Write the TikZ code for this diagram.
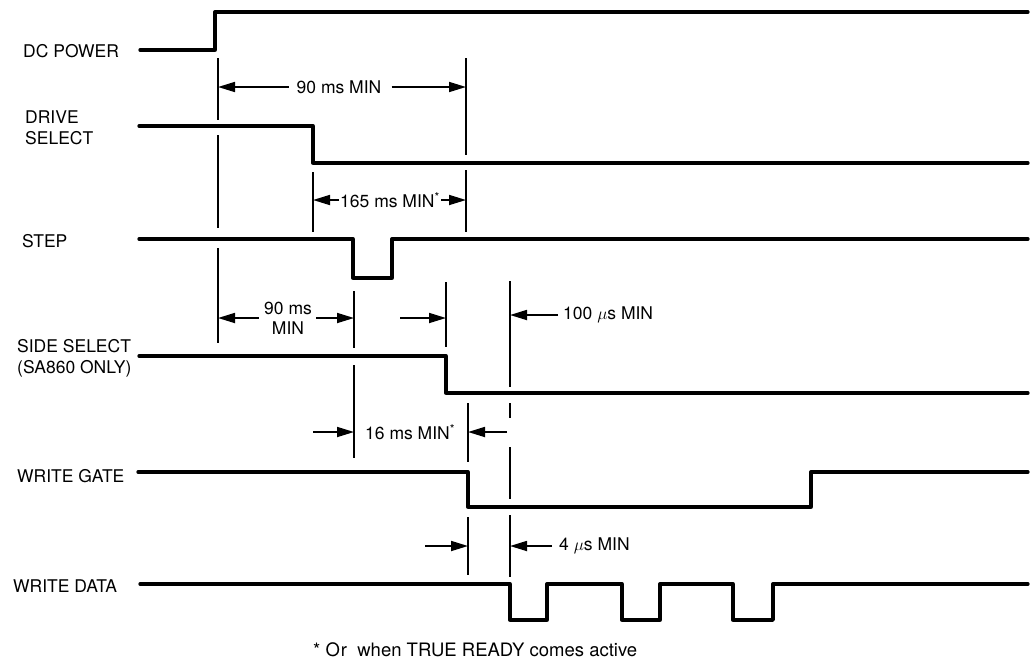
\documentclass[tikz,border=0pt]{standalone}
\usepackage{fontspec}
\setmainfont{TeX Gyre Heros}
\usetikzlibrary{arrows.meta}
\begin{document}
\begin{tikzpicture}[x=1pt,y=-1pt,
  sig/.style={line width=3.3pt,line join=round,line cap=round},
  guide/.style={line width=1.7pt},
  dim/.style={line width=1.7pt,-{Triangle[length=17pt,width=10pt]}},
  lbl/.style={font=\fontsize{17.5}{21}\selectfont,inner sep=0pt,anchor=west,align=left},
  txt/.style={font=\fontsize{17.5}{21}\selectfont,inner sep=0pt},
  foot/.style={font=\fontsize{18.5}{22}\selectfont,inner sep=0pt,anchor=west}]
\useasboundingbox (0,0) rectangle (1030,662);
% guide coordinates (x positions of timing references)
\coordinate (gA) at (218,0);
\coordinate (gB) at (466,0);
\coordinate (gC) at (313,0);
\coordinate (gD) at (354,0);
\coordinate (gE) at (446,0);
\coordinate (gF) at (510,0);
\coordinate (gG) at (468,0);
% signal labels
\node[lbl] (lDC) at (23,51) {DC POWER};
\node[lbl] (lDS) at (25,128) {DRIVE\\SELECT};
\node[lbl] (lST) at (22,241) {STEP};
\node[lbl] (lSS) at (17,358) {SIDE SELECT\\(SA860 ONLY)};
\node[lbl] (lWG) at (17,476) {WRITE GATE};
\node[lbl] (lWD) at (13,586) {WRITE DATA};
% signals
\draw[sig] (140,50) -- (215,50) -- (215,12) -- (1028,12);
\draw[sig] (139,126) -- (313,126) -- (313,163) -- (1028,163);
\draw[sig] (139,239) -- (353,239) -- (353,278) -- (392,278) -- (392,239) -- (1028,239);
\draw[sig] (139,356) -- (446,356) -- (446,393) -- (1028,393);
\draw[sig] (138,472) -- (468,472) -- (468,507) -- (811,507) -- (811,472) -- (1028,472);
\draw[sig] (140,584) -- (510,584) -- (510,620) -- (547,620) -- (547,584)
  -- (622,584) -- (622,620) -- (660,620) -- (660,584)
  -- (733,584) -- (733,620) -- (773,620) -- (773,584) -- (1028,584);
% guide lines
\draw[guide] (218,58) -- (218,120) (218,135) -- (218,228) (218,248) -- (218,343);
\draw[guide] (466,58) -- (466,155) (466,170) -- (466,232);
\draw[guide] (313,172) -- (313,232);
\draw[guide] (354,291) -- (354,348) (354,365) -- (354,458);
\draw[guide] (446,282) -- (446,347);
\draw[guide] (510,281) -- (510,387) (510,403) -- (510,418) (510,447) -- (510,499) (510,515) -- (510,577);
\draw[guide] (468,403) -- (468,462) (468,517) -- (468,575);
% 90 ms MIN (top)
\node[txt] (t90a) at (339,87) {90 ms MIN};
\draw[dim] ([xshift=-8pt]t90a.west) -- (t90a.west -| gA);
\draw[dim] ([xshift=10pt]t90a.east) -- (t90a.east -| gB);
% 165 ms MIN*
\node[txt,inner xsep=1pt] (t165) at (390,200) {165 ms MIN\textsuperscript{*}};
\draw[dim] (t165.west) -- (t165.west -| gC);
\draw[dim] (t165.east) -- (t165.east -| gB);
% 90 ms MIN (second)
\node[txt,align=center,font=\fontsize{17.5}{20}\selectfont] (t90b) at (288,318) {90 ms\\MIN};
\draw[dim] ([xshift=-5pt]t90b.west) -- (t90b.west -| gA);
\draw[dim] ([xshift=4pt]t90b.east) -- (t90b.east -| gD);
% arrow to side select edge
\coordinate (sE) at (400,318);
\draw[dim] (sE) -- (sE -| gE);
% 100 us MIN
\node[txt,anchor=west] (t100) at (563,315) {100 $\mu$s MIN};
\draw[dim] ([xshift=-5pt]t100.west) -- (t100.west -| gF);
% 16 ms MIN*
\coordinate (s16) at (313,432);
\draw[dim] (s16) -- (s16 -| gD);
\node[txt,anchor=west] (t16) at (365,432) {16 ms MIN\textsuperscript{*}};
\coordinate (e16) at (507,432);
\draw[dim] (e16) -- (e16 -| gG);
% 4 us MIN
\coordinate (s4) at (425,546);
\draw[dim] (s4) -- (s4 -| gG);
\node[txt,anchor=west] (t4) at (559,546) {4 $\mu$s MIN};
\draw[dim] ([xshift=-7pt]t4.west) -- (t4.west -| gF);
% footnote
\node[foot] (fn) at (313,650) {* O\kern1pt r\ \ when TRUE READY comes active};
\end{tikzpicture}
\end{document}
